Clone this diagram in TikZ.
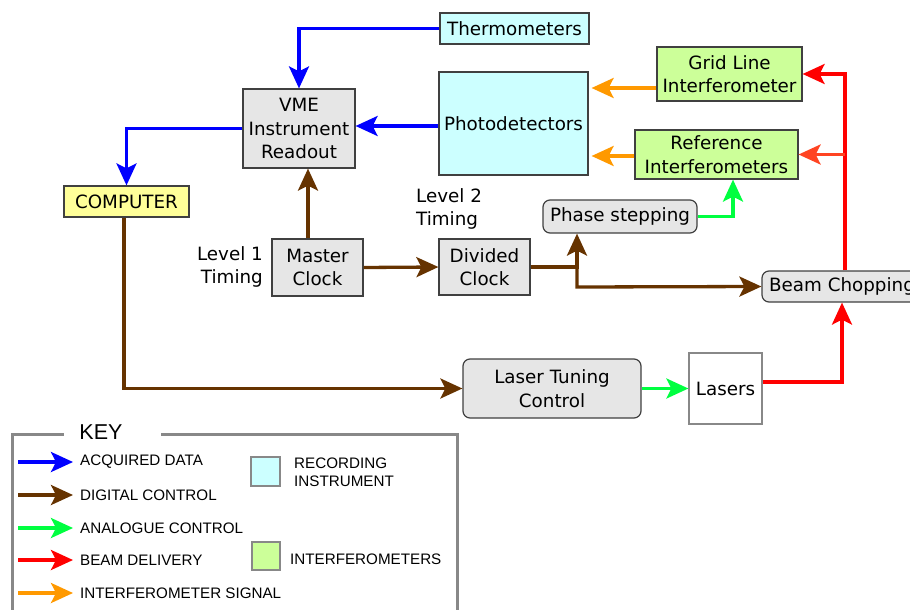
\documentclass[tikz,border=0pt]{standalone}
\usepackage{fontspec}
\setmainfont{DejaVu Sans}
\newfontfamily\keyfont{Liberation Sans}
\usetikzlibrary{arrows.meta}
\definecolor{cblue}{RGB}{0,0,255}
\definecolor{cbrown}{RGB}{102,51,0}
\definecolor{cgreen}{RGB}{0,255,64}
\definecolor{cred}{RGB}{255,0,0}
\definecolor{credor}{RGB}{255,68,34}
\definecolor{corange}{RGB}{255,153,0}
\definecolor{fgray}{RGB}{230,230,230}
\definecolor{fcyan}{RGB}{204,255,255}
\definecolor{fgreen}{RGB}{204,255,153}
\definecolor{fyellow}{RGB}{255,255,153}
\definecolor{bgray}{RGB}{64,64,64}
\definecolor{kgray}{RGB}{136,136,136}
\begin{document}
\begin{tikzpicture}[x=1pt,y=-1pt,
  box/.style={draw=bgray,line width=1.2pt,inner sep=0pt,align=center,
    font=\fontsize{18.3}{23.5}\selectfont},
  rbox/.style={box,rounded corners=7pt},
  arr/.style={line width=3.3pt,-{Stealth[length=22pt,width=20pt,inset=5pt]}},
  lbl/.style={inner sep=0pt,font=\fontsize{18.3}{23.5}\selectfont},
  keytxt/.style={inner sep=0pt,anchor=west,align=left,font=\keyfont\fontsize{15.2}{18}\selectfont}]
\useasboundingbox (0,0) rectangle (910,610);
% nodes
\node[box,fill=fcyan,minimum width=149pt,minimum height=31pt] (th) at (514.5,28.5) {Thermometers};
\node[box,fill=fgray,minimum width=112pt,minimum height=79pt] (vme) at (299,128.5) {VME\\Instrument\\Readout};
\node[box,fill=fcyan,minimum width=149pt,minimum height=103pt] (pd) at (513.5,123.5) {Photodetectors};
\node[box,fill=fgreen,minimum width=145pt,minimum height=54pt] (gl) at (729.5,74) {Grid Line\\Interferometer};
\node[box,fill=fgreen,minimum width=163pt,minimum height=49pt] (ri) at (716.5,154.5) {Reference\\Interferometers};
\node[box,fill=fyellow,minimum width=125pt,minimum height=31pt] (comp) at (126.5,201.5) {COMPUTER};
\node[rbox,fill=fgray,minimum width=154pt,minimum height=33pt] (ps) at (620,216.5) {Phase stepping};
\node[box,fill=fgray,minimum width=91pt,minimum height=57pt] (mc) at (317.5,267.5) {Master\\Clock};
\node[box,fill=fgray,minimum width=91pt,minimum height=56pt] (dc) at (484.5,267) {Divided\\Clock};
\node[rbox,fill=fgray,minimum width=160pt,minimum height=31pt] (bc) at (842,286.5) {Beam Chopping};
\node[rbox,fill=fgray,minimum width=178pt,minimum height=59pt] (ltc) at (552,388.5) {Laser Tuning\\Control};
\node[box,draw=kgray,fill=white,minimum width=73pt,minimum height=71pt] (las) at (725.5,388.5) {Lasers};
\node[lbl,align=right,anchor=east] (l1) at (263,267) {Level 1\\Timing};
\node[lbl,align=left,anchor=west] (l2) at (416,209) {Level 2\\Timing};
% helper coordinates
\coordinate (j1) at (577,287);
\coordinate (g1) at (733,0);
\coordinate (r2) at (845,0);
\coordinate (o1) at (0,88);
\coordinate (o2) at (0,156);
\coordinate (b1) at (0,126);
% connectors
\draw[arr,cblue] (th.west) -| (vme.north);
\draw[arr,cblue] (pd.west |- b1) -- (vme.east |- b1);
\draw[arr,cblue] (vme.west) -| (comp.north);
\draw[arr,cbrown] ([xshift=-9.5pt]mc.north) -- ([xshift=-9.5pt]mc.north |- vme.south);
\draw[arr,cbrown] (mc.east) -- (dc.east -| dc.west);
\draw[arr,cbrown] (dc.east) -| (j1 |- ps.south);
\draw[arr,cbrown] (j1 |- dc.east) -- (j1) -- (bc.west);
\draw[arr,cgreen] (ps.east) -| (g1 |- ri.south);
\draw[arr,cgreen] (ltc.east) -- (las.west);
\draw[arr,cred] ([yshift=6.5pt]las.east) -| (bc.south);
\draw[arr,cred] (r2 |- bc.north) |- (gl.east);
\draw[arr,credor] (r2 |- ri.east) -- (ri.east);
\draw[arr,corange,shorten >=3pt] (gl.west |- o1) -- (pd.east |- o1);
\draw[arr,corange,shorten >=3pt] (ri.west |- o2) -- (pd.east |- o2);
\draw[arr,cbrown] ([xshift=-2.5pt]comp.south) |- (ltc.west);
% key
\draw[kgray,line width=3pt] (12,620) -- (12,434) -- (64,434);
\draw[kgray,line width=3pt] (161,434) -- (457,434) -- (457,620);
\node[inner sep=0pt,font=\keyfont\fontsize{21.5}{24}\selectfont] (key) at (101,432) {KEY};
\coordinate (ka1) at (18,462); \coordinate (kb1) at (73,462);
\coordinate (ka2) at (18,495); \coordinate (kb2) at (73,495);
\coordinate (ka3) at (18,528); \coordinate (kb3) at (73,528);
\coordinate (ka4) at (18,560); \coordinate (kb4) at (73,560);
\coordinate (ka5) at (18,593); \coordinate (kb5) at (73,593);
\draw[arr,cblue] (ka1) -- (kb1);
\draw[arr,cbrown] (ka2) -- (kb2);
\draw[arr,cgreen] (ka3) -- (kb3);
\draw[arr,cred] (ka4) -- (kb4);
\draw[arr,corange] (ka5) -- (kb5);
\node[keytxt] (k1) at (80,462) {ACQUIRED DATA};
\node[keytxt] (k2) at (80,495) {DIGITAL CONTROL};
\node[keytxt] (k3) at (80,528) {ANALOGUE CONTROL};
\node[keytxt] (k4) at (80,560) {BEAM DELIVERY};
\node[keytxt] (k5) at (80,593) {INTERFEROMETER SIGNAL};
\node[draw=kgray,line width=1.2pt,fill=fcyan,minimum size=29pt,inner sep=0pt] (ksq1) at (265.5,471.5) {};
\node[draw=kgray,line width=1.2pt,fill=fgreen,minimum size=28pt,inner sep=0pt] (ksq2) at (266,556) {};
\node[keytxt] (k6) at (294,472) {RECORDING\\INSTRUMENT};
\node[keytxt] (k7) at (290,559) {INTERFEROMETERS};
\end{tikzpicture}
\end{document}
